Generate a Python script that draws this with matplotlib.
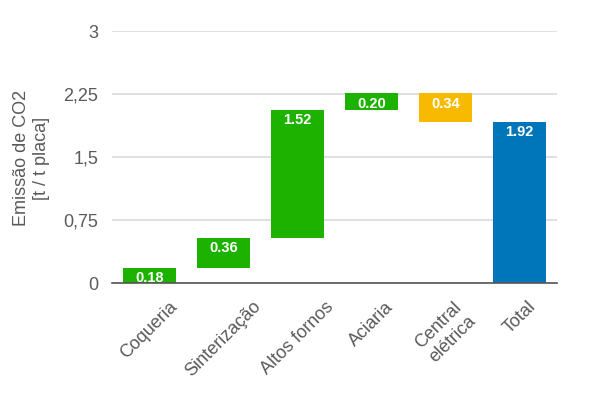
import matplotlib
matplotlib.use('Agg')
import matplotlib.pyplot as plt
import numpy as np

plt.rcParams['font.family'] = ['Liberation Sans', 'DejaVu Sans']

# dados do gráfico cascata
etapas = ['Coqueria', 'Sinterização', 'Altos fornos', 'Aciaria', 'Central\nelétrica', 'Total']
valores = [0.18, 0.36, 1.52, 0.20, -0.34, 1.92]
rotulos = ['0.18', '0.36', '1.52', '0.20', '0.34', '1.92']
yticks = [0, 0.75, 1.5, 2.25, 3]
yticklabels = ['0', '0,75', '1,5', '2,25', '3']

VERDE = '#1DB100'
AMARELO = '#F8BA00'
AZUL = '#0076BA'
CINZA = '#5A5A5A'

# base e altura de cada barra
bases = []
alturas = []
acum = 0.0
for i, v in enumerate(valores):
    if i == len(valores) - 1:
        bases.append(0.0)
        alturas.append(v)
    elif v >= 0:
        bases.append(acum)
        alturas.append(v)
        acum += v
    else:
        acum += v
        bases.append(acum)
        alturas.append(-v)

cores = []
for i, v in enumerate(valores):
    if i == len(valores) - 1:
        cores.append(AZUL)
    elif v >= 0:
        cores.append(VERDE)
    else:
        cores.append(AMARELO)

fig = plt.figure(figsize=(6, 4), dpi=100)
ax = fig.add_axes([0.187, 0.2925, 0.741, 0.63])

x = np.arange(len(etapas))
ax.bar(x, alturas, bottom=bases, width=0.72, color=cores, zorder=3)

for xi, b, h, r in zip(x, bases, alturas, rotulos):
    ax.annotate(r, xy=(xi, b + h), xytext=(0, -2.5), textcoords='offset points',
                ha='center', va='top', color='white', fontsize=10.5,
                fontweight='bold', zorder=4)

ax.set_xlim(-0.5, len(etapas) - 0.5)
ax.set_ylim(0, 3)
ax.set_yticks(yticks)
ax.set_yticklabels(yticklabels)
ax.yaxis.grid(True, color='#DADADA', linewidth=1.2, zorder=0)
ax.tick_params(axis='y', length=0, pad=10, labelsize=13, labelcolor=CINZA)
ax.tick_params(axis='x', length=0, pad=11, labelsize=13, labelcolor=CINZA)

ax.set_xticks(x)
ax.set_xticklabels(etapas, rotation=45, ha='center', va='top',
                   multialignment='center')

for s in ['top', 'right', 'left']:
    ax.spines[s].set_visible(False)
ax.spines['bottom'].set_color('#555555')
ax.spines['bottom'].set_linewidth(1.2)
ax.spines['bottom'].set_zorder(5)

fig.text(0.052, 0.605, 'Emissão de CO2\n[t / t placa]', rotation=90,
         ha='center', va='center', multialignment='center',
         fontsize=13, color=CINZA)

fig.savefig('out.png', dpi=100, facecolor='white')
